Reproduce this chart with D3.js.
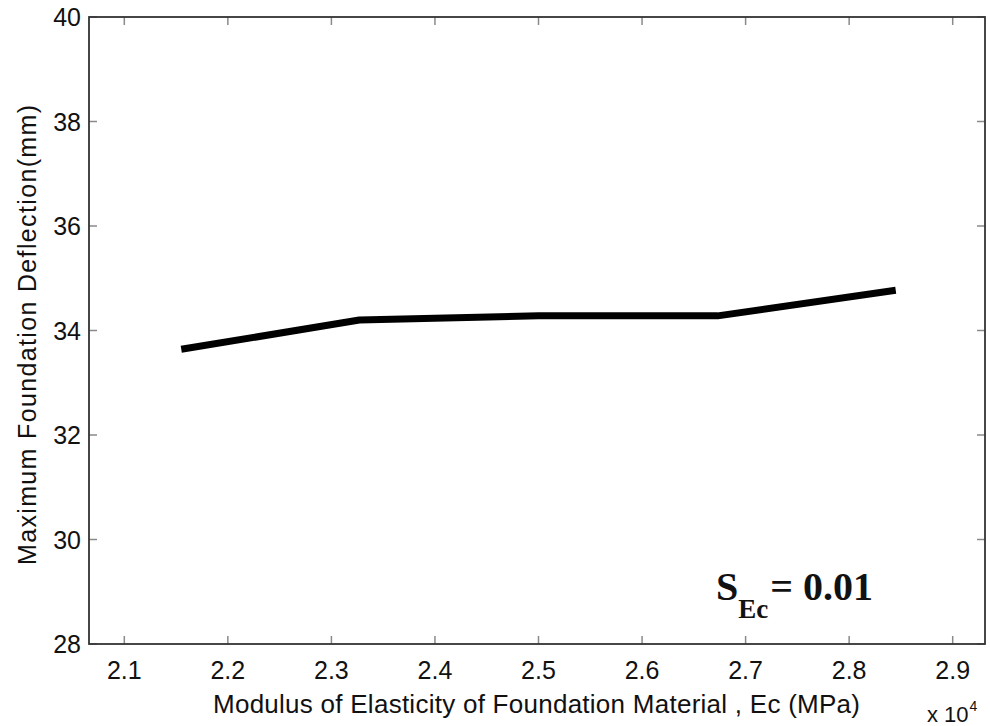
<!DOCTYPE html>
<html>
<head>
<meta charset="utf-8">
<script src="https://cdn.jsdelivr.net/npm/d3@7"></script>
<style>
  html, body { margin: 0; padding: 0; background: #fff; }
  svg { display: block; }
</style>
</head>
<body>
<svg id="chart" width="990" height="726"></svg>
<script>
// Modulus of elasticity (x 10^4 MPa) against maximum foundation deflection (mm)
const modulus = [2.155, 2.327, 2.5, 2.673, 2.845];
const deflection = [33.64, 34.2, 34.28, 34.28, 34.77];
const xTicks = [2.1, 2.2, 2.3, 2.4, 2.5, 2.6, 2.7, 2.8, 2.9];
const yTicks = [28, 30, 32, 34, 36, 38, 40];
const xDomain = [2.0659, 2.9312];
const yDomain = [28, 40];

const svg = d3.select("#chart");
const box = { left: 89, right: 985, top: 17, bottom: 644 };

const x = d3.scaleLinear().domain(xDomain).range([box.left, box.right]);
const y = d3.scaleLinear().domain(yDomain).range([box.bottom, box.top]);

const fontFamily = '"Liberation Sans", Arial, Helvetica, sans-serif';
const tickLen = 8;

// Inward ticks on all four sides
const gTicks = svg.append("g").attr("stroke", "#8a8a8a").attr("stroke-width", 1.5);
xTicks.forEach(v => {
  gTicks.append("line").attr("x1", x(v)).attr("x2", x(v)).attr("y1", box.bottom).attr("y2", box.bottom - tickLen);
  gTicks.append("line").attr("x1", x(v)).attr("x2", x(v)).attr("y1", box.top).attr("y2", box.top + tickLen);
});
yTicks.forEach(v => {
  gTicks.append("line").attr("x1", box.left).attr("x2", box.left + tickLen).attr("y1", y(v)).attr("y2", y(v));
  gTicks.append("line").attr("x1", box.right).attr("x2", box.right - tickLen).attr("y1", y(v)).attr("y2", y(v));
});

// Tick labels
svg.append("g").selectAll("text").data(xTicks).join("text")
  .attr("x", d => x(d)).attr("y", 679)
  .attr("text-anchor", "middle")
  .attr("font-family", fontFamily).attr("font-size", 25).attr("fill", "#111")
  .text(d => d.toFixed(1));

svg.append("g").selectAll("text").data(yTicks).join("text")
  .attr("x", 81).attr("y", d => y(d))
  .attr("dy", "0.36em")
  .attr("text-anchor", "end")
  .attr("font-family", fontFamily).attr("font-size", 25).attr("fill", "#111")
  .text(d => d);

// Axis titles
svg.append("text")
  .attr("x", (213 + 860) / 2).attr("y", 713)
  .attr("text-anchor", "middle")
  .attr("font-family", fontFamily).attr("font-size", 26).attr("fill", "#111")
  .attr("textLength", 647).attr("lengthAdjust", "spacing")
  .text("Modulus of Elasticity of Foundation Material , Ec (MPa)");

svg.append("text")
  .attr("transform", `translate(36,${(105 + 565) / 2}) rotate(-90)`)
  .attr("text-anchor", "middle")
  .attr("font-family", fontFamily).attr("font-size", 25).attr("fill", "#111")
  .attr("textLength", 460).attr("lengthAdjust", "spacing")
  .text("Maximum Foundation Deflection(mm)");

// Exponent multiplier
const mult = svg.append("text")
  .attr("x", 927).attr("y", 722)
  .attr("font-family", fontFamily).attr("font-size", 22).attr("fill", "#111");
mult.append("tspan").text("x 10");
mult.append("tspan").attr("dx", 1).attr("dy", -11).attr("font-size", 14).text("4");

// Data line
const line = d3.line().x((d, i) => x(modulus[i])).y(d => y(d));
svg.append("path")
  .datum(deflection)
  .attr("d", line)
  .attr("fill", "none")
  .attr("stroke", "#000")
  .attr("stroke-width", 7)
  .attr("stroke-linejoin", "round");

// Frame
svg.append("rect")
  .attr("x", box.left).attr("y", box.top)
  .attr("width", box.right - box.left).attr("height", box.bottom - box.top)
  .attr("fill", "none").attr("stroke", "#333").attr("stroke-width", 1.8);

// Annotation
const ann = svg.append("text")
  .attr("x", 716).attr("y", 600)
  .attr("font-family", '"Liberation Serif", "Times New Roman", serif')
  .attr("font-weight", "bold").attr("font-size", 40).attr("fill", "#111");
ann.append("tspan").text("S");
ann.append("tspan").attr("dy", 18).attr("font-size", 27).text("Ec");
ann.append("tspan").attr("dy", -18).attr("dx", 2).text("= 0.01");
</script>
</body>
</html>
